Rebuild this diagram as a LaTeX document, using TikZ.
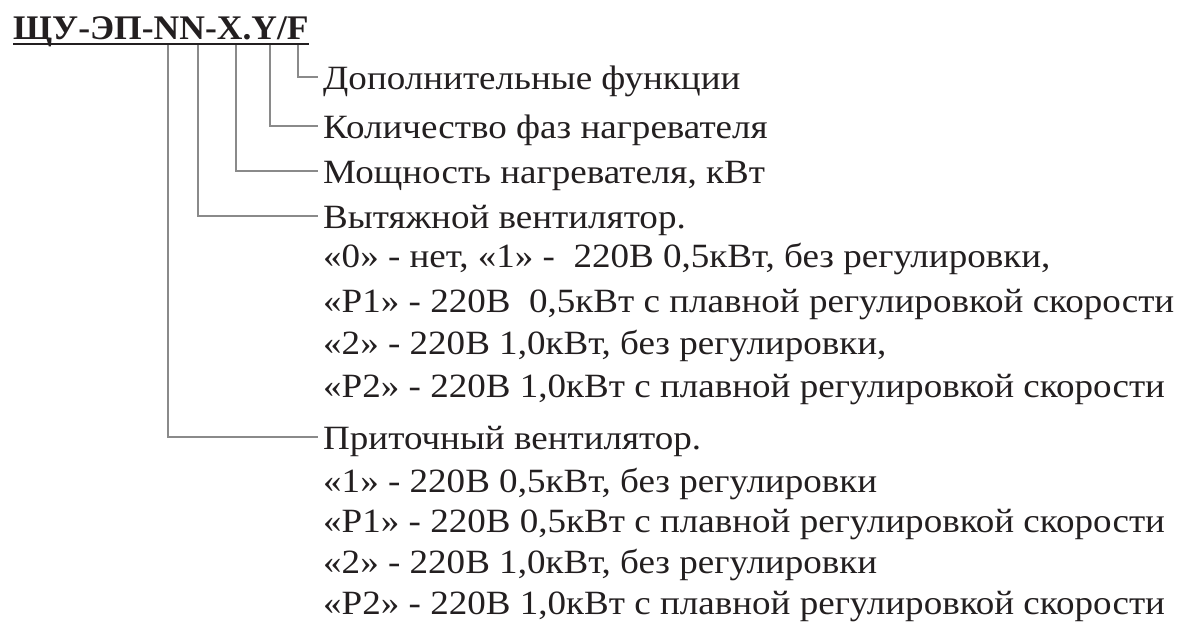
\documentclass[tikz,border=0pt]{standalone}
\usepackage{fontspec}
\usetikzlibrary{calc}
\newfontfamily\bodyfont[FakeStretch=1.09]{Liberation Serif}
\newfontfamily\titlefont[FakeStretch=1.03]{Liberation Serif}
\definecolor{txt}{HTML}{231F20}
\definecolor{ln}{HTML}{8A8A8A}
\begin{document}
\begin{tikzpicture}[x=1pt,y=-1pt,
  lbl/.style={anchor=base west, inner sep=0pt, font=\bodyfont\fontsize{34}{34}\selectfont, text=txt},
  ttl/.style={anchor=base west, inner sep=0pt, font=\titlefont\bfseries\fontsize{34.5}{34.5}\selectfont, text=txt},
  conn/.style={draw=ln, line width=1.3pt},
  uline/.style={draw=txt, line width=2pt}]
\useasboundingbox (0,0) rectangle (1200,634);
\node[ttl] (title) at (13,40) {ЩУ-ЭП-NN-X.Y/F};
\draw[uline] ($(title.base west)+(0,4)$) -- ($(title.base east)+(0,4)$);
\coordinate (bF) at (298,45);
\coordinate (bY) at (270,45);
\coordinate (bX) at (236,45);
\coordinate (bN) at (198,45);
\coordinate (bP) at (168,45);
\node[lbl] (d1) at (323,89) {Дополнительные функции};
\node[lbl] (d2) at (323,138) {Количество фаз нагревателя};
\node[lbl] (d3) at (323,183) {Мощность нагревателя, кВт};
\node[lbl] (d4) at (323,228) {Вытяжной вентилятор.};
\node[lbl] (d4a) at (323,267) {«0» - нет, «1» -\ \ 220В 0,5кВт, без регулировки,};
\node[lbl] (d4b) at (323,312) {«Р1» - 220В\ \ 0,5кВт с плавной регулировкой скорости};
\node[lbl] (d4c) at (323,354) {«2» - 220В 1,0кВт, без регулировки,};
\node[lbl] (d4d) at (323,397) {«Р2» - 220В 1,0кВт с плавной регулировкой скорости};
\node[lbl] (d5) at (323,449) {Приточный вентилятор.};
\node[lbl] (d5a) at (323,492) {«1» - 220В 0,5кВт, без регулировки};
\node[lbl] (d5b) at (323,532) {«Р1» - 220В 0,5кВт с плавной регулировкой скорости};
\node[lbl] (d5c) at (323,573) {«2» - 220В 1,0кВт, без регулировки};
\node[lbl] (d5d) at (323,614) {«Р2» - 220В 1,0кВт с плавной регулировкой скорости};
\draw[conn] (bF) |- ($(d1.base west)+(-5,-12)$);
\draw[conn] (bY) |- ($(d2.base west)+(-5,-12)$);
\draw[conn] (bX) |- ($(d3.base west)+(-5,-12)$);
\draw[conn] (bN) |- ($(d4.base west)+(-5,-12)$);
\draw[conn] (bP) |- ($(d5.base west)+(-5,-12)$);
\end{tikzpicture}
\end{document}
